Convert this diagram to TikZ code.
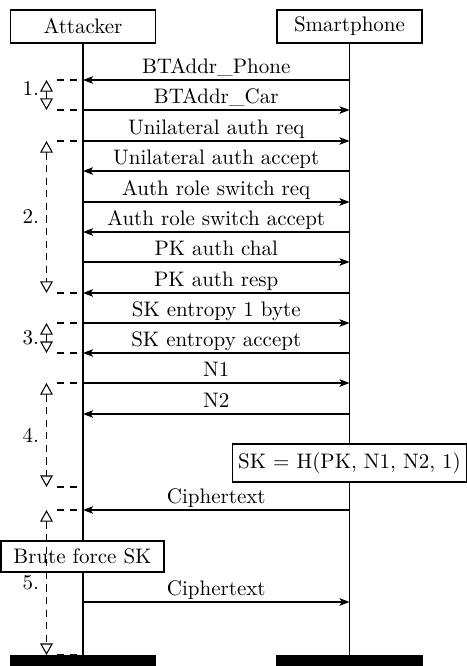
\documentclass[tikz,border=0pt]{standalone}
\usetikzlibrary{arrows.meta}

\begin{document}
\begin{tikzpicture}[
      x=0.476pt, y=-0.476pt,
      thread/.style={draw, line width=0.6pt, minimum width=69pt,
                     minimum height=15.7pt, inner sep=0pt},
      bar/.style={fill=black, minimum width=69.5pt, minimum height=5.3pt, inner sep=0pt},
      life/.style={line width=0.5pt},
      msg/.style={-{Stealth[length=4.8pt,width=3.6pt,inset=1.2pt]}, line width=0.5pt},
      lbl/.style={midway, above, text depth=0pt, inner sep=3pt},
      note/.style={draw, fill=white, line width=0.6pt, inner sep=0pt},
      phase/.style={line width=0.5pt, dash pattern=on 3.5pt off 2.5pt},
      span/.style={phase, {Triangle[open,length=5.5pt,width=6pt]}-{Triangle[open,length=5.5pt,width=6pt]}},
    ]
    \useasboundingbox (0,0) rectangle (466,666);

    % threads
    \node[thread] (att)   at (83,26.5)    {Attacker};
    \node[thread] (phone) at (349.5,26.5) {Smartphone};
    \node[bar] (attend)   at (83,660.5)    {};
    \node[bar] (phoneend) at (349.5,660.5) {};
    \draw[life] (att) -- (attend);
    \draw[life] (phone) -- (phoneend);

    % message heights
    \foreach \i/\y in {1/80,2/110,3/141,4/171,5/202,6/232,7/262,8/293,
                       9/323,10/353,11/383,12/414,13/510,14/602} {
      \coordinate (a\i) at (83,\y);
      \coordinate (p\i) at (349.5,\y);
    }

    \draw[msg] (p1)  -- node[lbl] {BTAddr\_Phone} (a1);
    \draw[msg] (a2)  -- node[lbl] {BTAddr\_Car} (p2);
    \draw[msg] (a3)  -- node[lbl] {Unilateral auth req} (p3);
    \draw[msg] (p4)  -- node[lbl] {Unilateral auth accept} (a4);
    \draw[msg] (a5)  -- node[lbl] {Auth role switch req} (p5);
    \draw[msg] (p6)  -- node[lbl] {Auth role switch accept} (a6);
    \draw[msg] (a7)  -- node[lbl] {PK auth chal} (p7);
    \draw[msg] (p8)  -- node[lbl] {PK auth resp} (a8);
    \draw[msg] (a9)  -- node[lbl] {SK entropy 1 byte} (p9);
    \draw[msg] (p10) -- node[lbl] {SK entropy accept} (a10);
    \draw[msg] (a11) -- node[lbl] {N1} (p11);
    \draw[msg] (p12) -- node[lbl] {N2} (a12);
    \draw[msg] (p13) -- node[lbl] {Ciphertext} (a13);
    \draw[msg] (a14) -- node[lbl] {Ciphertext} (p14);

    % actions
    \node[note, minimum width=111.4pt, minimum height=18.1pt] (skcalc) at (349.5,463)
      {SK = H(PK, N1, N2, 1)};
    \node[note, minimum width=77.6pt, minimum height=14.8pt] (brute) at (82.5,556.5)
      {Brute force SK};

    % attack phases
    \foreach \t/\b/\ly [count=\k] in {80/110/89, 141/293/217, 323/353/338,
                                      383/487/435, 510/655/583} {
      \coordinate (st\k) at (46.5,\t);
      \coordinate (sb\k) at (46.5,\b);
      \coordinate (ht\k) at (57,\t);
      \coordinate (hb\k) at (57,\b);
      \draw[phase] (ht\k) -- (ht\k -| att);
      \draw[phase] (hb\k) -- (hb\k -| att);
      \draw[span] (st\k) -- (sb\k);
      \node[left] (step\k) at (46.5,\ly) {\k.};
    }
  \end{tikzpicture}
\end{document}
